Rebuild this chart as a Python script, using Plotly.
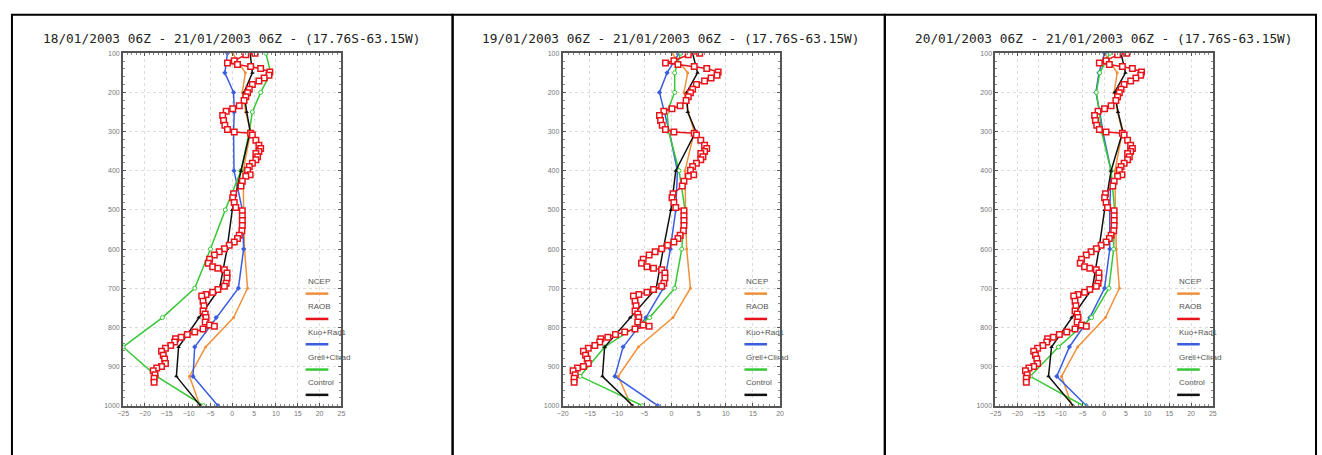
import plotly.graph_objects as go

# ---------------- data ----------------
levels = [1000, 925, 850, 775, 700, 600, 500, 400, 300, 250, 200, 150, 100]

titles = [
    "18/01/2003 06Z - 21/01/2003 06Z - (17.76S-63.15W)",
    "19/01/2003 06Z - 21/01/2003 06Z - (17.76S-63.15W)",
    "20/01/2003 06Z - 21/01/2003 06Z - (17.76S-63.15W)",
]

ncep = [-7.4, -9.8, -6.1, 0.3, 3.5, 2.8, 2.6, 2.5, 4.2, 3.1, 2.3, 3.0, 0.1]

kuo_1 = [-3.3, -9.0, -8.6, -3.7, 1.4, 2.6, 2.3, 0.4, 0.3, 0.45, 0.3, -1.7, -1.1]
grell_1 = [-6.6, -17.3, -25.0, -16.0, -8.6, -5.0, -1.6, 2.0, 3.9, 4.6, 6.5, 8.8, 7.7]
control_1 = [-7.3, -12.8, -12.3, -7.7, -2.9, -1.2, 0.0, 2.0, 4.1, 3.3, 2.7, 4.6, 4.1]

kuo_2 = [-2.5, -10.4, -8.9, -4.7, -1.5, -0.2, 0.8, 1.1, -0.4, -1.3, -2.2, -0.8, 1.4]
grell_2 = [-5.3, -16.8, -12.3, -4.0, 0.6, 1.9, 2.5, 1.4, -0.5, -0.8, 0.6, 0.6, 1.7]
control_2 = [-7.1, -12.7, -12.3, -7.6, -2.8, -1.5, -0.1, 0.8, 4.5, 3.0, 2.8, 4.8, 3.9]

kuo_3 = [-4.1, -10.9, -8.0, -3.3, 0.1, 1.3, 1.3, 1.6, -0.3, -1.0, -1.9, -1.2, 0.1]
grell_3 = [-4.8, -17.0, -10.5, -2.9, 1.1, 2.2, 2.4, 1.6, -0.6, -1.1, -1.8, -1.0, 1.3]
control_3 = [-7.1, -12.8, -12.1, -7.5, -2.7, -1.2, 0.1, 1.6, 4.3, 3.2, 2.4, 4.9, 3.9]

raob_p = [100, 104, 119, 125, 129, 134, 139, 148, 156, 163, 171, 180, 192, 201,
          211, 221, 234, 242, 248, 259, 272, 284, 295, 301, 304, 309, 322, 335,
          343, 351, 356, 364, 372, 381, 389, 399, 410, 414, 427, 439, 459, 469,
          481, 494, 502, 515, 527, 540, 553, 565, 573, 582, 590, 599, 607, 615,
          626, 636, 645, 649, 653, 661, 674, 687, 695, 703, 710, 716, 720, 733,
          745, 758, 766, 775, 786, 794, 797, 804, 812, 818, 825, 829, 837, 846,
          853, 861, 871, 881, 892, 900, 904, 911, 921, 930, 940]
raob_t = [5.2, 3.1, 0.45, -1.1, 1.2, 4.2, 6.5, 8.6, 8.4, 7.3, 6.1, 4.6, 3.9, 3.5,
          3.1, 2.7, 1.6, 0.1, -1.4, -2.2, -2.0, -1.7, -1.1, 0.45, 4.2, 4.6, 5.4, 6.1,
          6.5, 6.1, 5.4, 5.8, 5.4, 4.6, 3.9, 3.5, 4.1, 3.1, 2.3, 2.0, 0.3, 0.1,
          0.45, 0.8, 2.3, 2.3, 2.3, 2.3, 2.2, 1.6, 1.2, 0.45, -0.7, -1.8, -3.0, -4.1,
          -5.2, -5.5, -4.5, -3.3, -1.8, -1.2, -1.2, -1.4, -1.8, -3.3, -4.5, -6.0, -7.0, -6.7,
          -6.5, -6.7, -6.2, -6.0, -6.2, -5.2, -4.1, -6.7, -8.6, -10.3, -11.7, -13.0, -13.2, -14.1,
          -15.3, -16.2, -15.8, -15.5, -15.3, -16.2, -17.3, -18.1, -17.7, -17.9, -17.9]

x_ranges = [[-25, 25], [-20, 20], [-25, 25]]
y_ticks = [100, 200, 300, 400, 500, 600, 700, 800, 900, 1000]
legend_names = ["NCEP", "RAOB", "Kuo+Rad1", "Grell+Clirad", "Control"]

# ---------------- styles ----------------
C_NCEP = "#f0903a"
C_RAOB = "#e8141c"
C_KUO = "#3a5de0"
C_GRELL = "#36c836"
C_CTRL = "#111111"
legend_colors = [C_NCEP, C_RAOB, C_KUO, C_GRELL, C_CTRL]

W, H = 1322, 455
plot_px = [(118, 338), (561, 780), (997, 1216)]
plot_top, plot_bot = 50, 408
panel_px = [(6, 450), (450, 885.5), (885.5, 1320)]

models = [
    (kuo_1, grell_1, control_1),
    (kuo_2, grell_2, control_2),
    (kuo_3, grell_3, control_3),
]

fig = go.Figure()
annotations = []
shapes = []

for i in range(3):
    sfx = "" if i == 0 else str(i + 1)
    xa, ya = "x" + sfx, "y" + sfx
    kuo, grell, ctrl = models[i]

    fig.add_trace(go.Scatter(x=ncep, y=levels, xaxis=xa, yaxis=ya, mode="lines+markers",
                             line=dict(color=C_NCEP, width=1.5),
                             marker=dict(size=3, color=C_NCEP), showlegend=False))
    fig.add_trace(go.Scatter(x=kuo, y=levels, xaxis=xa, yaxis=ya, mode="lines+markers",
                             line=dict(color=C_KUO, width=1.5),
                             marker=dict(size=4, color=C_KUO, symbol="diamond"), showlegend=False))
    fig.add_trace(go.Scatter(x=grell, y=levels, xaxis=xa, yaxis=ya, mode="lines+markers",
                             line=dict(color=C_GRELL, width=1.5),
                             marker=dict(size=4, color="white", symbol="circle",
                                         line=dict(color=C_GRELL, width=1)), showlegend=False))
    fig.add_trace(go.Scatter(x=ctrl, y=levels, xaxis=xa, yaxis=ya, mode="lines+markers",
                             line=dict(color=C_CTRL, width=1.5),
                             marker=dict(size=4, color=C_CTRL, symbol="triangle-up"), showlegend=False))
    fig.add_trace(go.Scatter(x=raob_t, y=raob_p, xaxis=xa, yaxis=ya, mode="lines+markers",
                             line=dict(color=C_RAOB, width=1.5),
                             marker=dict(size=5.5, color="white", symbol="square",
                                         line=dict(color=C_RAOB, width=1.5)), showlegend=False))

    x0, x1 = plot_px[i]
    common = dict(showline=True, linecolor="#555", linewidth=2, mirror="ticks",
                  ticks="inside", ticklen=3, tickcolor="#555", tickwidth=1,
                  showgrid=True, gridcolor="#dcdcdc", griddash="dot", gridwidth=1,
                  zeroline=False, tickfont=dict(family="Liberation Sans Narrow, Liberation Sans",
                                                size=7, color="#777"))
    fig.update_layout(**{
        ("xaxis" + sfx): dict(domain=[x0 / W, x1 / W], range=x_ranges[i], dtick=5,
                              tick0=0, anchor=ya,
                              minor=dict(ticks="inside", ticklen=2, dtick=1, tickcolor="#888",
                                         showgrid=False),
                              **common),
        ("yaxis" + sfx): dict(domain=[1 - plot_bot / H, 1 - plot_top / H], range=[1000, 100],
                              tickvals=y_ticks, anchor=xa,
                              minor=dict(ticks="inside", ticklen=2, dtick=20, tickcolor="#888",
                                         showgrid=False),
                              **common),
    })

    # title
    annotations.append(dict(text=titles[i], x=(x0 + x1) / 2 / W, y=1 - 35 / H,
                            xref="paper", yref="paper", showarrow=False,
                            xanchor="center", yanchor="middle",
                            font=dict(family="DejaVu Sans Mono", size=12.8, color="#222")))

    # legend (text above a line sample)
    for k, (name, col) in enumerate(zip(legend_names, legend_colors)):
        ty = 0.352 - k * 0.0718
        ly = 0.318 - k * 0.0718
        annotations.append(dict(text=name, x=0.836, y=ty,
                                xref=xa + " domain", yref=ya + " domain",
                                showarrow=False, xanchor="left", yanchor="middle",
                                font=dict(family="Liberation Sans Narrow, Liberation Sans",
                                          size=8, color="#555")))
        shapes.append(dict(type="line", x0=0.836, x1=0.94, y0=ly, y1=ly,
                           xref=xa + " domain", yref=ya + " domain",
                           line=dict(color=col, width=2.5)))

    # panel frame
    p0, p1 = panel_px[i]
    shapes.append(dict(type="rect", xref="paper", yref="paper",
                       x0=p0 / W, x1=p1 / W, y0=-0.02, y1=1 - 11 / H,
                       line=dict(color="black", width=2), fillcolor="rgba(0,0,0,0)",
                       layer="below"))

fig.update_layout(width=W, height=H, margin=dict(l=0, r=0, t=0, b=0),
                  paper_bgcolor="white", plot_bgcolor="white",
                  annotations=annotations, shapes=shapes, showlegend=False)

fig.write_html("out.html", config={"displayModeBar": False},
               post_script="document.body.style.margin='0';document.body.style.padding='0';"
                           "document.body.style.overflow='hidden';")
